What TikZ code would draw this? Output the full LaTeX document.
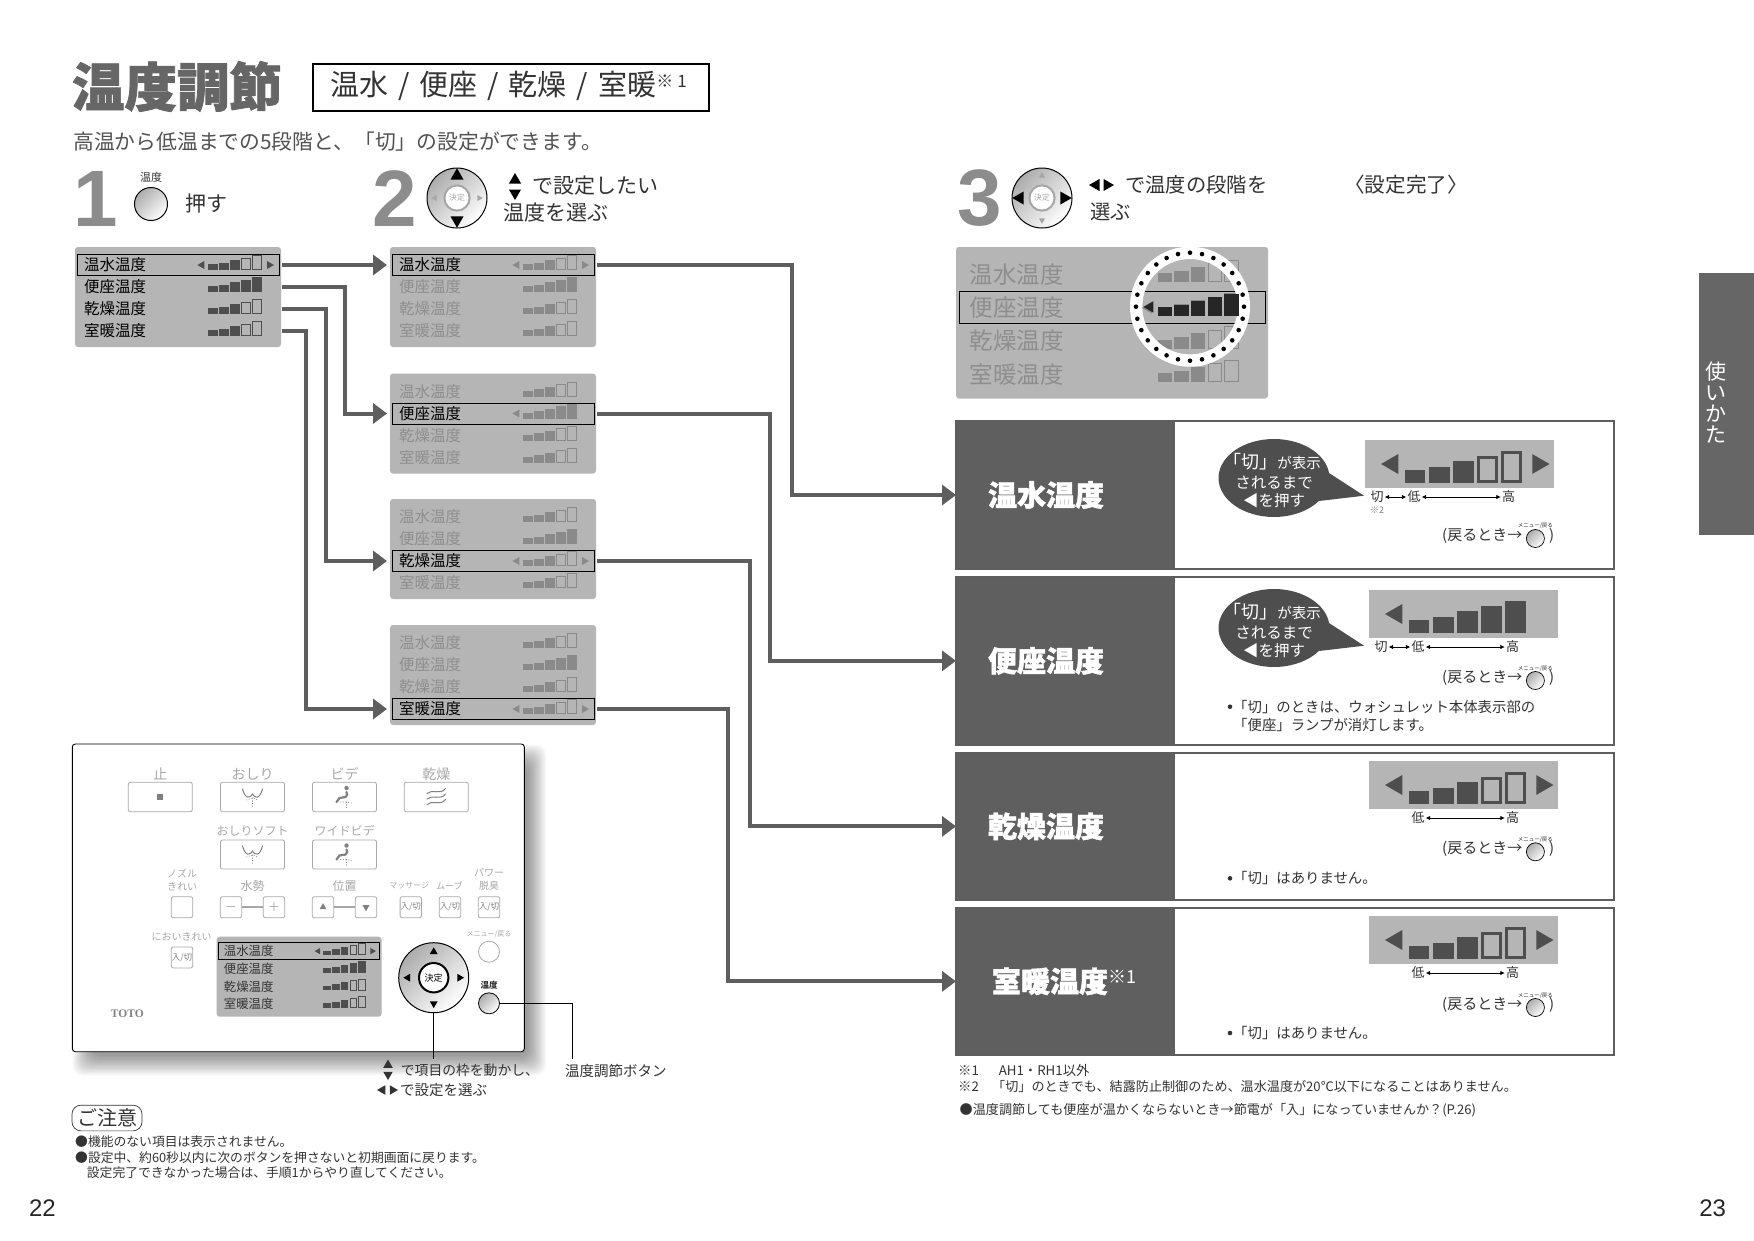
\documentclass[tikz,border=0pt]{standalone}
\usepackage{fontspec}
\setmainfont{Noto Sans CJK JP}
\newfontfamily\heavyfont[BoldFeatures={FakeBold=1.4}]{Noto Sans CJK JP}
\newfontfamily\numfont{Liberation Sans}
\newfontfamily\logofont{Liberation Serif}
\usetikzlibrary{shapes.geometric,arrows.meta,positioning,calc}
\definecolor{panelgray}{HTML}{B5B5B5}
\definecolor{cardgray}{HTML}{5F5F5F}
\definecolor{dimtext}{HTML}{8E8E8E}
\definecolor{dimbar}{HTML}{8A8A8A}
\definecolor{linkgray}{HTML}{5E5E5E}
\definecolor{barcol}{HTML}{4E4E4E}
\definecolor{ink}{HTML}{333333}
\definecolor{faint}{HTML}{A8A8A8}
\definecolor{stepgray}{HTML}{8C8C8C}
\definecolor{titlegray}{HTML}{666666}
\newcommand{\fs}[1]{\fontsize{#1}{#1}\selectfont}
\tikzset{
    txt/.style = {anchor=west, inner sep=0pt, text=ink},
    ctxt/.style = {inner sep=0pt, text=ink},
    link/.style = {-{Triangle[length=14pt,width=20pt]}, line width=4pt, draw=linkgray, shorten <=3pt},
    leader/.style = {draw=black, line width=0.9pt},
    scalearrow/.style = {{Latex[length=4.5pt,width=4.5pt]}-{Latex[length=4.5pt,width=4.5pt]}, line width=0.7pt, shorten <=1pt, shorten >=1pt},
    menurow/.style = {anchor=west, inner ysep=0pt, align=left, outer sep=0pt},
    knob/.style = {circle, draw=black, line width=1pt, inner sep=0pt, outer sep=0pt, top color=gray!65, middle color=white, bottom color=white, shading angle=45},
    knobcore/.style = {circle, fill=white, inner sep=0pt, outer sep=0pt},
    remotebtn/.style = {draw=faint, fill=white, rounded corners=2pt, line width=0.8pt, inner sep=0pt, text=gray},
    remotelabel/.style = {inner sep=0pt, text=faint, align=center},
    cardhead/.style = {fill=cardgray, anchor=north west, inner xsep=32pt, inner ysep=0pt, outer sep=0pt, text width=154.6pt, align=left, text=white, font=\fs{29}\heavyfont\bfseries},
    cardframe/.style = {draw=linkgray, line width=2pt},
    iconline/.style = {draw=gray, line width=1pt, line cap=round}
}
% triangle: x, y, direction, size, colour
\newcommand{\arrowtri}[5]{\fill[#5,shift={(#1,#2)},rotate=#3] (0:#4) -- (120:#4) -- (240:#4) -- cycle;}
% bars: x, y bottom, scale, filled, colour, outline width
\newcommand{\levelbars}[6]{
    \foreach \bi/\barh in {0/5.7,1/7.3,2/10,3/12.3,4/14.6}{
        \pgfmathsetmacro{\barx}{#1+\bi*11*#3}
        \ifnum\bi<#4
            \fill[#5] (\barx,#2) rectangle ++(9.5*#3,-\barh*#3);
        \else
            \draw[#5,line width=#6pt] (\barx+#6/2,#2-#6/2) rectangle ++(9.5*#3-#6,-\barh*#3+#6);
        \fi
    }
}
% panel: name, x, y, selected row, scale, row colour, selected colour, bar colour
\newcommand{\menupanel}[8]{
    \fill[panelgray,rounded corners=3pt] (#2,#3) rectangle ++(206*#5,100*#5);
    \pgfmathsetmacro{\rowfs}{15.5*#5}
    \pgfmathsetmacro{\rowtw}{188*#5}
    \pgfmathsetmacro{\rowsep}{7*#5}
    \pgfmathsetmacro{\rowx}{#2+2*#5}
    \pgfmathsetmacro{\rowh}{21*#5}
    \foreach \i/\lab/\n in {1/温水温度/3,2/便座温度/5,3/乾燥温度/3,4/室暖温度/3}{
        \pgfmathsetmacro{\rowy}{#3+(22*\i-4)*#5}
        \ifnum\i=#4
            \node[menurow,draw=black,line width=0.9pt,text=#7,inner xsep=\rowsep pt,text width=\rowtw pt,minimum height=\rowh pt,font=\fs{\rowfs}] (#1\i) at (\rowx,\rowy) {\lab};
            \arrowtri{#2+127*#5}{\rowy}{180}{4.6*#5}{#8}
            \ifnum\n<5 \arrowtri{#2+194.4*#5}{\rowy}{0}{4.6*#5}{#8} \fi
        \else
            \node[menurow,text=#6,inner xsep=\rowsep pt,text width=\rowtw pt,minimum height=\rowh pt,font=\fs{\rowfs}] (#1\i) at (\rowx,\rowy) {\lab};
        \fi
        \levelbars{#2+133*#5}{\rowy+5*#5}{#5}{\n}{#8}{0.7}
    }
}
% knob: name, x, y, radius, v size, v colour, h size, h colour, ring colour
\newcommand{\dialknob}[9]{
    \node[knob,minimum size=2*#4] (#1) at (#2,#3) {};
    \pgfmathsetmacro{\corefs}{#4*0.26}
    \node[knobcore,draw=#9,text=#9,line width=2pt,minimum size=0.84*#4,font=\fs{\corefs}] (#1c) at (#2,#3) {決定};
    \arrowtri{#2}{#3-0.74*#4}{90}{#5}{#6}
    \arrowtri{#2}{#3+0.74*#4}{270}{#5}{#6}
    \arrowtri{#2-0.74*#4}{#3}{180}{#7}{#8}
    \arrowtri{#2+0.74*#4}{#3}{0}{#7}{#8}
}
% strip: name, x, top, filled, with right arrow
\newcommand{\levelstrip}[5]{
    \node[fill=panelgray,anchor=north west,minimum width=189,minimum height=47.7,inner sep=0pt] (#1) at (#2,#3) {};
    \levelbars{#2+39.5}{#3+43}{2.2}{#4}{barcol}{3}
    \arrowtri{#2+27.5}{#3+24}{180}{11.5}{barcol}
    \ifnum#5=1 \arrowtri{#2+173}{#3+24}{0}{11.5}{barcol} \fi
}
% labels below strip: name, strip x, y, with off
\newcommand{\scalelabels}[4]{
    \node[ctxt,font=\fs{13}] (#1lo) at (#2+49,#3) {低};
    \node[ctxt,font=\fs{13}] (#1hi) at (#2+143.5,#3) {高};
    \draw[scalearrow] (#1lo) -- (#1hi);
    \ifnum#4=1
        \node[ctxt,font=\fs{13}] (#1off) at (#2+12,#3) {切};
        \draw[scalearrow] (#1off) -- (#1lo);
    \fi
}
% back hint: name, y
\newcommand{\backhint}[2]{
    \node[txt,font=\fs{15}] (#1t) at (1442,#2) {(戻るとき→};
    \node[knob,line width=0.7pt,minimum size=18] (#1b) at (1535.4,#2+2.5) {};
    \node[ctxt,font=\fs{5.5}] (#1m) at (1535.4,#2-9.7) {メニュー/戻る};
    \node[txt,font=\fs{15}] (#1c) at (1549,#2) {)};
}
% bubble: name, centre y
\newcommand{\offbubble}[2]{
    \node[ellipse,fill=barcol,inner sep=0pt,minimum width=111,minimum height=78] (#1) at (1274,#2) {};
    \fill[barcol] (#1.5) -- ($(#1.center)+(90,17.7)$) -- (#1.-27) -- cycle;
    \node[ctxt,text=white,font=\fs{18}] (#1a) at (1272,#2-16.5) {「切」{\fs{14.5}が表示}};
    \node[ctxt,text=white,font=\fs{15.5}] (#1b) at (1274,#2+5) {されるまで};
    \node[ctxt,text=white,font=\fs{15.5}] (#1c) at (1274,#2+23) {◀を押す};
}
\newcommand{\washicon}[2]{
    \begin{scope}[shift={(#1,#2)}]
        \draw[iconline] (-10,-6) .. controls (-7,5) and (-2,3) .. (0,-1) .. controls (2,3) and (7,5) .. (10,-6);
        \draw[iconline,line width=0.6pt,dotted] (-6,5) -- (0,3) -- (6,5) (0,3) -- (0,12);
    \end{scope}
}
\newcommand{\bideticon}[2]{
    \begin{scope}[shift={(#1,#2)}]
        \fill[gray] (2,-9) circle (2.2);
        \draw[iconline,line width=2.2pt] (2,-5) .. controls (3,-2) .. (1,0) -- (-5,1) -- (-8,5);
        \draw[iconline,line width=0.6pt,dotted] (-4,5) -- (2,5) -- (7,6) (2,5) -- (2,12);
    \end{scope}
}
\begin{document}
\begin{tikzpicture}[x=1pt,y=-1pt]
    \path[fill=white,use as bounding box] (0,0) rectangle (1754,1240);

    % heading
    \node[ctxt,text=titlegray,font=\fs{52.5}\heavyfont\bfseries] (title) at (177,86.5) {温度調節};
    \node[draw=black,line width=2pt,anchor=north west,minimum width=396,minimum height=47.5,inner sep=0pt] (titlebox) at (312,62.5) {};
    \node[txt,font=\fs{29}] (titletext) at (330,86) {温水\hspace{10pt}/\hspace{10pt}便座\hspace{10pt}/\hspace{10pt}乾燥\hspace{10pt}/\hspace{10pt}室暖{\raisebox{8pt}{\fs{17}※\hspace{4pt}1}}};
    \node[txt,text=ink!85,font=\fs{20.8}] (subtitle) at (73,142) {高温から低温までの5段階と、「切」の設定ができます。};

    % step headers
    \node[ctxt,text=stepgray,font=\fs{80}\numfont\bfseries] (num1) at (96,198.5) {1};
    \node[ctxt,font=\fs{11}] (heat1) at (151,177) {温度};
    \node[knob,minimum size=33] (press1) at (151,204) {};
    \node[ctxt,font=\fs{21}] (push1) at (206,204) {押す};
    \node[ctxt,text=stepgray,font=\fs{80}\numfont\bfseries] (num2) at (395,198.5) {2};
    \dialknob{dial2}{457}{198}{30}{7.5}{black}{3.5}{gray!70}{gray!70}
    \arrowtri{515}{180}{90}{7}{black}
    \arrowtri{515}{193}{270}{7}{black}
    \node[txt,font=\fs{21}] (text2a) at (532,186) {で設定したい};
    \node[txt,font=\fs{21}] (text2b) at (503,213) {温度を選ぶ};
    \node[ctxt,text=stepgray,font=\fs{80}\numfont\bfseries] (num3) at (980,198.5) {3};
    \dialknob{dial3}{1042}{198}{30}{3.5}{gray!70}{7.5}{black}{gray!70}
    \arrowtri{1096}{185}{180}{7}{black}
    \arrowtri{1107}{185}{0}{7}{black}
    \node[txt,font=\fs{20.3}] (text3a) at (1125,185) {で温度の段階を};
    \node[txt,font=\fs{20.3}] (text3b) at (1090,212) {選ぶ};
    \node[ctxt,font=\fs{20.6}] (done) at (1406,185) {〈設定完了〉};

    % menus
    \menupanel{ma}{75}{247}{1}{1}{black}{black}{barcol}
    \menupanel{pa}{390}{247}{1}{1}{dimtext}{black}{dimbar}
    \menupanel{pb}{390}{373.5}{2}{1}{dimtext}{black}{dimbar}
    \menupanel{pc}{390}{499}{3}{1}{dimtext}{black}{dimbar}
    \menupanel{pd}{390}{625}{4}{1}{dimtext}{black}{dimbar}

    % result panel with magnifier
    \menupanel{rs}{956}{247}{2}{1.515}{dimtext}{dimtext}{dimbar}
    \coordinate (lens) at (1190,306.7);
    \fill[white,even odd rule] (lens) circle (60) (lens) circle (47.7);
    \begin{scope}[shift={(lens)}]
        \foreach \k in {1,...,28}
            \fill[black] ({\k*360/28}:54) circle (2.3);
    \end{scope}
    \levelbars{1157.5}{316}{1.515}{5}{black!85}{1}
    \arrowtri{1150}{307}{180}{6.5}{black!85}

    % cards
    \foreach \i/\y/\h/\t in {1/421/148/温水温度,2/576.7/168.3/便座温度,3/752.7/147.3/乾燥温度,4/907.7/147.3/{\hspace*{4pt}室暖温度{\raisebox{9pt}{\fs{18}\mdseries ※1}}}}{
        \node[cardhead,minimum height=\h] (card\i) at (956,\y) {\t};
        \draw[cardframe] (card\i.south west) rectangle ++(657.5,-\h);
    }
    \offbubble{bub1}{478}
    \levelstrip{st1}{1365}{440}{3}{1}
    \scalelabels{sc1}{1365}{497}{1}
    \node[ctxt,text=gray,font=\fs{9}] (note2mark) at (1377,510) {※2};
    \backhint{bk1}{536}
    \offbubble{bub2}{628}
    \levelstrip{st2}{1369}{590}{5}{0}
    \scalelabels{sc2}{1369}{647}{1}
    \backhint{bk2}{678}
    \fill[ink] (1230,706.7) circle (2.3);
    \node[txt,font=\fs{14.4}] (info2a) at (1233,706.7) {「切」のときは、ウォシュレット本体表示部の};
    \node[txt,font=\fs{14.4}] (info2b) at (1233,725) {「便座」ランプが消灯します。};
    \levelstrip{st3}{1369}{761}{3}{1}
    \scalelabels{sc3}{1369}{818}{0}
    \backhint{bk3}{849.3}
    \fill[ink] (1230,878.3) circle (2.3);
    \node[txt,font=\fs{14.4}] (info3) at (1233,878.3) {「切」はありません。};
    \levelstrip{st4}{1369}{916}{3}{1}
    \scalelabels{sc4}{1369}{973}{0}
    \backhint{bk4}{1005}
    \fill[ink] (1230,1033) circle (2.3);
    \node[txt,font=\fs{14.4}] (info4) at (1233,1033) {「切」はありません。};

    % connectors
    \draw[link,shorten >=5pt] (ma1.east) -- (pa1.west);
    \draw[link,shorten >=5pt] (ma2.east) -- ++(65.6,0) |- (pb2.west);
    \draw[link,shorten >=5pt] (ma3.east) -- ++(47,0) |- (pc3.west);
    \draw[link,shorten >=5pt] (ma4.east) -- ++(26.7,0) |- (pd4.west);
    \draw[link] (pa1.east) -- ++(198,0) |- (card1.west);
    \draw[link] (pb2.east) -- ++(175.6,0) |- (card2.west);
    \draw[link] (pc3.east) -- ++(155.5,0) |- (card3.west);
    \draw[link] (pd4.east) -- ++(134,0) |- (card4.west);

    % remote control
    \foreach \k in {0,...,15}
        \fill[black,opacity=0.028,rounded corners=10pt] (92-1.3*\k,764-1.3*\k) rectangle (528+1.2*\k,1056+1.3*\k);
    \draw[draw=black,fill=white,line width=0.9pt,rounded corners=3pt] (72.3,744) rectangle (524.3,1051.7);
    \foreach \nm/\x/\y/\lab in {stopb/160.3/797/止,oshb/252.5/797/おしり,bidb/344.5/797/ビデ,dryb/436.3/797/乾燥}{
        \node[remotebtn,minimum width=64,minimum height=29.4] (\nm) at (\x,\y) {};
        \node[remotelabel,font=\fs{14},above=1.5pt of \nm] (\nm-lab) {\lab};
    }
    \foreach \nm/\x/\lab in {softb/252.5/おしりソフト,wideb/344.5/ワイドビデ}{
        \node[remotebtn,minimum width=64,minimum height=29] (\nm) at (\x,854.5) {};
        \node[remotelabel,font=\fs{12},above=3pt of \nm] (\nm-lab) {\lab};
    }
    \foreach \nm/\x/\y/\t in {nozb/182/907.2/{},minusb/231/907.2/{\fs{15}$-$},plusb/274/907.2/{\fs{15}$+$},upb/323/907.2/{},downb/366/907.2/{},massb/410.8/907.2/{入/切},moveb/450/907.2/{入/切},powb/489/907.2/{入/切},smellb/182/957.4/{入/切}}{
        \node[remotebtn,minimum width=21.4,minimum height=21,font=\fs{8.5}] (\nm) at (\x,\y) {\t};
    }
    \draw[draw=faint,line width=1.6pt] (minusb) -- (plusb);
    \draw[draw=faint,line width=1.6pt] (upb) -- (downb);
    \arrowtri{323}{907.2}{90}{4}{gray}
    \arrowtri{366}{907.2}{270}{4}{gray}
    \fill[gray] (157,794) rectangle ++(6,6);
    \washicon{252.5}{795}
    \washicon{252.5}{852}
    \bideticon{344.5}{797}
    \bideticon{344.5}{854.5}
    \foreach \dy in {-5.5,0,5.5}
        \draw[iconline] (427,797+\dy+2) .. controls (432,797+\dy-3) and (440,797+\dy+4) .. (445.5,797+\dy-3);
    \node[remotelabel,font=\fontsize{10}{13}\selectfont] (nozl) at (182,879.5) {ノズル\\きれい};
    \node[remotelabel,font=\fs{12}] (flowl) at (252.5,886) {水勢};
    \node[remotelabel,font=\fs{12}] (posl) at (344.5,886) {位置};
    \node[remotelabel,font=\fs{8}] (massl) at (409.3,886) {マッサージ};
    \node[remotelabel,font=\fs{9}] (movel) at (449.3,886) {ムーブ};
    \node[remotelabel,font=\fontsize{10}{13}\selectfont] (powl) at (489,879.5) {パワー\\脱臭};
    \node[remotelabel,font=\fs{10}] (smelll) at (181.7,936.7) {においきれい};
    \node[remotelabel,font=\fs{7}] (menul) at (489,934) {メニュー/戻る};
    \node[circle,draw=faint,line width=0.8pt,minimum size=21,inner sep=0pt] (menub) at (489,951.7) {};
    \node[ctxt,font=\fs{8.5}\bfseries] (heatl) at (489,985.7) {温度};
    \node[knob,minimum size=21,line width=0.8pt] (heatb) at (489,1003.3) {};
    \node[ctxt,text=gray,font=\fs{11.5}\logofont\bfseries] (logo) at (127.3,1014) {TOTO};
    \menupanel{rm}{216.7}{936.7}{1}{0.8}{ink}{ink}{barcol}
    \dialknob{dial}{433.7}{977.7}{35}{4.5}{black}{4.5}{black}{black}

    % callouts
    \coordinate (dialend) at (433.7,1059);
    \coordinate (heatend) at (572.3,1059);
    \draw[leader] (dial.south) -- (dialend);
    \draw[leader] (heatb.east) -| (heatend);
    \arrowtri{388}{1065}{90}{5.5}{ink}
    \arrowtri{388}{1074.5}{270}{5.5}{ink}
    \node[txt,font=\fs{13.8}] (call1a) at (400.7,1070) {で項目の枠を動かし、};
    \arrowtri{382.5}{1090}{180}{5.5}{ink}
    \arrowtri{392.5}{1090}{0}{5.5}{ink}
    \node[txt,font=\fs{14.5}] (call1b) at (400,1090) {で設定を選ぶ};
    \node[txt,font=\fs{14.5}] (call2) at (565,1070.7) {温度調節ボタン};

    % notes
    \node[draw=ink,line width=0.7pt,rounded corners=9pt,minimum width=70,minimum height=25.7,inner sep=0pt,font=\fs{20},text=ink] (caution) at (107,1118) {ご注意};
    \node[txt,font=\fs{12.8}] (note1) at (75,1141.7) {●機能のない項目は表示されません。};
    \node[txt,font=\fs{12.8}] (note2) at (75,1158) {●設定中、約60秒以内に次のボタンを押さないと初期画面に戻ります。};
    \node[txt,font=\fs{12.8}] (note3) at (86.7,1173) {設定完了できなかった場合は、手順1からやり直してください。};
    \node[txt,font=\fs{13.3}] (foot1a) at (958,1070.7) {※1};
    \node[txt,font=\fs{13.3}] (foot1b) at (998.6,1070.7) {AH1・RH1以外};
    \node[txt,font=\fs{13.3}] (foot2a) at (958,1086.7) {※2};
    \node[txt,font=\fs{13.1}] (foot2b) at (992,1086.7) {「切」のときでも、結露防止制御のため、温水温度が20℃以下になることはありません。};
    \node[txt,font=\fs{13.1}] (foot3) at (959.5,1110.7) {●温度調節しても便座が温かくならないとき→節電が「入」になっていませんか？(P.26)};

    % side tab and page numbers
    \node[fill=titlegray,anchor=north west,minimum width=55,minimum height=262,inner sep=0pt] (tab) at (1699,273) {};
    \node[ctxt,text=white,align=center,font=\fs{21}] (tabtext) at (1716,403) {使\\い\\か\\た};
    \node[ctxt,text=black!85,font=\fs{24}\numfont] (page22) at (42.5,1208) {22};
    \node[ctxt,text=black!85,font=\fs{24}\numfont] (page23) at (1712.6,1208) {23};
\end{tikzpicture}
\end{document}
